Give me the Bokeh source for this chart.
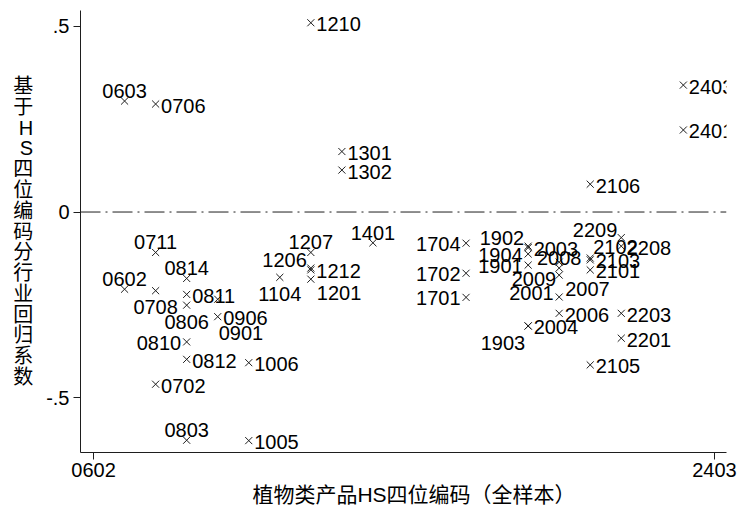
from bokeh.plotting import figure
from bokeh.models import Range1d, FixedTicker, Span, ColumnDataSource, LabelSet
from bokeh.core.properties import value
from bokeh.embed import file_html
from bokeh.resources import INLINE

# ---------------- data ----------------
codes = ["0602", "0603", "0702", "0706", "0708", "0711", "0803", "0806", "0810", "0811",
         "0812", "0814", "0901", "0906", "1005", "1006", "1104", "1201", "1206", "1207",
         "1210", "1212", "1301", "1302", "1401", "1701", "1702", "1704", "1901", "1902",
         "1903", "1904", "2001", "2003", "2004", "2006", "2007", "2008", "2009", "2101",
         "2102", "2103", "2105", "2106", "2201", "2203", "2208", "2209", "2401", "2403"]
xpos = [6, 6, 7, 7, 7, 7, 8, 8, 8, 8,
        8, 8, 9, 9, 10, 10, 11, 12, 12, 12,
        12, 12, 13, 13, 14, 17, 17, 17, 19, 19,
        19, 19, 20, 19, 19, 20, 20, 20, 20, 21,
        21, 21, 21, 21, 22, 22, 22, 22, 24, 24]
coef = [-0.208, 0.299, -0.464, 0.291, -0.212, -0.109, -0.615, -0.251, -0.350, -0.222,
        -0.397, -0.179, -0.235, -0.282, -0.616, -0.406, -0.176, -0.181, -0.151, -0.109,
        0.510, -0.156, 0.163, 0.113, -0.083, -0.230, -0.165, -0.084, -0.143, -0.092,
        -0.307, -0.113, -0.229, -0.096, -0.307, -0.273, -0.170, -0.151, -0.135, -0.156,
        -0.124, -0.129, -0.412, 0.075, -0.340, -0.273, -0.092, -0.069, 0.221, 0.342]

xtick_vals = [5, 25]
xtick_labels = ["0602", "2403"]
ytick_vals = [-0.5, 0, 0.5]
ytick_labels = ["-.5", "0", ".5"]

x_title = "植物类产品HS四位编码（全样本）"
y_title = "基于HS四位编码分行业回归系数"

# ---------------- label placement (style) ----------------
label_pos = {
    "0602": "T", "0603": "T", "0702": "R", "0706": "R", "0708": "B", "0711": "T",
    "0803": "T", "0806": "B", "0810": "L", "0811": "R", "0812": "R", "0814": "T",
    "0901": "BRF", "0906": "R", "1005": "R", "1006": "R", "1104": "B", "1201": "BR",
    "1206": "TL", "1207": "T", "1210": "R", "1212": "R", "1301": "R", "1302": "R",
    "1401": "T", "1701": "L", "1702": "L", "1704": "L", "1901": "L", "1902": "TL",
    "1903": "BL", "1904": "L", "2001": "LU", "2003": "R", "2004": "R", "2006": "R",
    "2007": "BR", "2008": "T", "2009": "BL", "2101": "R", "2102": "TR", "2103": "R",
    "2105": "R", "2106": "R", "2201": "R", "2203": "R", "2208": "R", "2209": "TL",
    "2401": "R", "2403": "R",
}
# (align, dx right, dy down) in screen pixels
pos_style = {
    "R": ("left", 5.5, 1.5),
    "L": ("right", -5.5, 1.0),
    "LU": ("right", -5.5, -4.0),
    "T": ("center", 0.0, -10.0),
    "B": ("center", 0.0, 16.5),
    "TL": ("right", -4.0, -8.0),
    "TR": ("left", 3.0, -11.0),
    "BR": ("left", 6.0, 14.0),
    "BRF": ("left", 1.0, 34.0),
    "BL": ("right", -3.0, 17.0),
}

FONT = "'Liberation Sans', 'Noto Sans CJK SC', sans-serif"
INK = "#1e1e1e"

p = figure(width=739, height=512, output_backend="svg", toolbar_location=None,
           x_range=Range1d(4.58, 25.39), y_range=Range1d(-0.648, 0.543),
           min_border_left=80, min_border_right=13, min_border_top=10, min_border_bottom=60)
p.outline_line_color = None
p.xgrid.visible = False
p.ygrid.visible = False
p.background_fill_color = "white"
p.border_fill_color = "white"

# reference line at 0
p.add_layout(Span(location=0, dimension="width", line_color=INK, line_width=1,
                  line_dash="20 5 2 5"))

# markers
src = ColumnDataSource(dict(x=xpos, y=coef, code=codes))
p.scatter("x", "y", source=src, marker="x", size=10, line_color=INK, line_width=1.0)

# labels grouped by alignment (LabelSet: not clipped at the frame edge)
groups = {}
for c, xx, yy in zip(codes, xpos, coef):
    align, dx, dy = pos_style[label_pos[c]]
    g = groups.setdefault(align, dict(x=[], y=[], t=[], dx=[], dy=[]))
    g["x"].append(xx); g["y"].append(yy); g["t"].append(c)
    g["dx"].append(dx); g["dy"].append(-dy)
for align, g in groups.items():
    s = ColumnDataSource(g)
    ls = LabelSet(x="x", y="y", text="t", source=s, x_offset="dx", y_offset="dy",
                  text_align=align, text_baseline="middle",
                  text_font=value(FONT), text_font_size="20px", text_color="black")
    p.add_layout(ls)

# axes
for ax in (p.xaxis[0], p.yaxis[0]):
    ax.axis_line_color = INK
    ax.major_tick_line_color = INK
    ax.minor_tick_line_color = None
    ax.major_tick_in = 0
    ax.major_tick_out = 7
    ax.major_label_text_font = FONT
    ax.major_label_text_font_size = "20px"
    ax.major_label_text_color = "black"
    ax.axis_label_text_font = FONT
    ax.axis_label_text_font_size = "20px"
    ax.axis_label_text_font_style = "normal"
    ax.axis_label_text_color = "black"

p.xaxis.ticker = FixedTicker(ticks=xtick_vals)
p.xaxis.major_label_overrides = {v: l for v, l in zip(xtick_vals, xtick_labels)}
p.xaxis.major_label_standoff = 3
# leading ideographic space nudges the centred title right, as in the reference
p.xaxis.axis_label = "\u3000" + x_title
p.xaxis.axis_label_text_font_size = "21px"
p.xaxis.axis_label_standoff = 3

p.yaxis.ticker = FixedTicker(ticks=ytick_vals)
p.yaxis.major_label_overrides = {v: l for v, l in zip(ytick_vals, ytick_labels)}
p.yaxis.major_label_standoff = 4
p.yaxis.major_label_orientation = "horizontal"
p.yaxis.axis_label = "\n".join(list(y_title))
p.yaxis.axis_label_orientation = "horizontal"
p.yaxis.axis_label_text_line_height = 0.945
p.yaxis.axis_label_standoff = 10

open("out.html", "w").write(file_html(p, INLINE))
